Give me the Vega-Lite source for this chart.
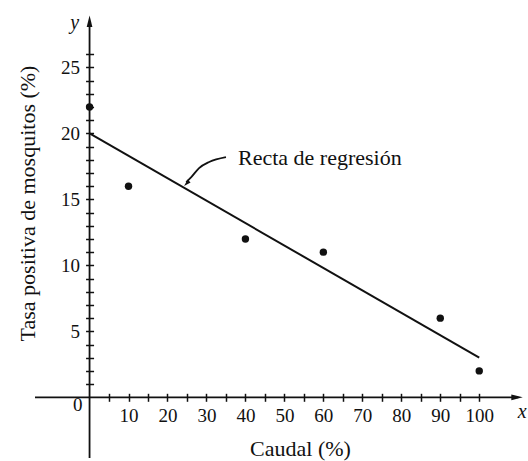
{
  "$schema": "https://vega.github.io/schema/vega-lite/v6.json",
  "width": 491,
  "height": 446,
  "autosize": {"type": "none"},
  "padding": {"left": 35, "top": 12, "right": 2, "bottom": 3},
  "background": "white",
  "config": {
    "view": {"stroke": null},
    "font": "Liberation Serif",
    "axis": {"grid": false}
  },
  "datasets": {
    "points": [
      {"x": 0, "y": 22},
      {"x": 10, "y": 16},
      {"x": 40, "y": 12},
      {"x": 60, "y": 11},
      {"x": 90, "y": 6},
      {"x": 100, "y": 2}
    ],
    "fit": [
      {"x": 0, "y": 20},
      {"x": 100, "y": 3}
    ],
    "xaxisline": [{"x": -14, "x2": 110, "y": 0}],
    "yaxisline": [{"x": 0, "y": -4.6, "y2": 28.4}],
    "xarrow": [{"x": 109.7, "y": 0}],
    "yarrow": [{"x": 0, "y": 28.5}],
    "curve": [
      {"x": 24.8, "y": 16.31},
      {"x": 26.1, "y": 16.69},
      {"x": 28.1, "y": 17.37},
      {"x": 30.7, "y": 17.83},
      {"x": 35.0, "y": 18.2}
    ],
    "curvehead": [{"x": 24.9, "y": 16.2}],
    "varnames": [
      {"x": -3.8, "y": 28.4, "text": "y"},
      {"x": 111, "y": -1.1, "text": "x"}
    ],
    "origin": [{"x": -3, "y": -0.6, "text": "0"}],
    "note": [{"x": 38.1, "y": 18.1, "text": "Recta de regresión"}]
  },
  "layer": [
    {
      "data": {"name": "points"},
      "mark": {"type": "point", "filled": true, "color": "#111", "size": 55, "opacity": 1},
      "encoding": {
        "x": {
          "field": "x", "type": "quantitative",
          "scale": {"domain": [-14, 112], "nice": false, "zero": false},
          "axis": {
            "orient": "bottom",
            "offset": -64.7,
            "domain": false,
            "values": [5,10,15,20,25,30,35,40,45,50,55,60,65,70,75,80,85,90,95,100],
            "tickCount": 100,
            "format": "d",
            "labelExpr": "datum.value % 10 == 0 ? datum.label : ''",
            "tickSize": 8,
            "tickWidth": 1.5,
            "tickColor": "#111",
            "labelFontSize": 19,
            "labelColor": "#111",
            "labelPadding": 5,
            "labelFlush": false,
            "labelOverlap": false,
            "title": "Caudal (%)",
            "titleFontSize": 22,
            "titleFontWeight": "normal",
            "titleColor": "#111",
            "titleX": 265,
            "titleY": 54.7,
            "titleAlign": "center",
            "titleBaseline": "middle"
          }
        },
        "y": {
          "field": "y", "type": "quantitative",
          "scale": {"domain": [-4.6, 29.2], "nice": false, "zero": false},
          "axis": {
            "orient": "left",
            "offset": -58.56,
            "domain": false,
            "values": [1,2,3,4,5,6,7,8,9,10,11,12,13,14,15,16,17,18,19,20,21,22,23,24,25,26],
            "tickCount": 100,
            "format": "d",
            "labelExpr": "datum.value % 5 == 0 ? datum.label : ''",
            "tickSize": 8,
            "tickWidth": 1.5,
            "tickColor": "#111",
            "labelFontSize": 19,
            "labelColor": "#111",
            "labelPadding": 6,
            "labelFlush": false,
            "labelOverlap": false,
            "title": "Tasa positiva de mosquitos (%)",
            "titleFontSize": 22,
            "titleFontWeight": "normal",
            "titleColor": "#111",
            "titleX": -65.6,
            "titleY": 191,
            "titleAngle": -90,
            "titleAlign": "center",
            "titleBaseline": "middle"
          }
        }
      }
    },
    {
      "data": {"name": "fit"},
      "mark": {"type": "line", "color": "#111", "strokeWidth": 2},
      "encoding": {
        "x": {"field": "x", "type": "quantitative"},
        "y": {"field": "y", "type": "quantitative"}
      }
    },
    {
      "data": {"name": "xaxisline"},
      "mark": {"type": "rule", "color": "#111", "strokeWidth": 1.8},
      "encoding": {
        "x": {"field": "x", "type": "quantitative"},
        "x2": {"field": "x2"},
        "y": {"field": "y", "type": "quantitative"}
      }
    },
    {
      "data": {"name": "yaxisline"},
      "mark": {"type": "rule", "color": "#111", "strokeWidth": 1.8},
      "encoding": {
        "x": {"field": "x", "type": "quantitative"},
        "y": {"field": "y", "type": "quantitative"},
        "y2": {"field": "y2"}
      }
    },
    {
      "data": {"name": "xarrow"},
      "mark": {"type": "point", "filled": true, "color": "#111", "opacity": 1, "shape": "M1,0L-1,0.5L-1,-0.5Z", "size": 130},
      "encoding": {
        "x": {"field": "x", "type": "quantitative"},
        "y": {"field": "y", "type": "quantitative"}
      }
    },
    {
      "data": {"name": "yarrow"},
      "mark": {"type": "point", "filled": true, "color": "#111", "opacity": 1, "shape": "M0,-1L0.5,1L-0.5,1Z", "size": 130},
      "encoding": {
        "x": {"field": "x", "type": "quantitative"},
        "y": {"field": "y", "type": "quantitative"}
      }
    },
    {
      "data": {"name": "curve"},
      "mark": {"type": "line", "color": "#111", "strokeWidth": 1.8, "interpolate": "monotone"},
      "encoding": {
        "x": {"field": "x", "type": "quantitative"},
        "y": {"field": "y", "type": "quantitative"}
      }
    },
    {
      "data": {"name": "curvehead"},
      "mark": {"type": "point", "filled": true, "color": "#111", "opacity": 1, "shape": "M0,-1L0.6,1L-0.6,1Z", "size": 50, "angle": 225},
      "encoding": {
        "x": {"field": "x", "type": "quantitative"},
        "y": {"field": "y", "type": "quantitative"}
      }
    },
    {
      "data": {"name": "varnames"},
      "mark": {"type": "text", "color": "#111", "fontSize": 20, "fontStyle": "italic", "align": "center", "baseline": "middle"},
      "encoding": {
        "x": {"field": "x", "type": "quantitative"},
        "y": {"field": "y", "type": "quantitative"},
        "text": {"field": "text"}
      }
    },
    {
      "data": {"name": "origin"},
      "mark": {"type": "text", "color": "#111", "fontSize": 19, "align": "center", "baseline": "middle"},
      "encoding": {
        "x": {"field": "x", "type": "quantitative"},
        "y": {"field": "y", "type": "quantitative"},
        "text": {"field": "text"}
      }
    },
    {
      "data": {"name": "note"},
      "mark": {"type": "text", "color": "#111", "fontSize": 22, "align": "left", "baseline": "middle"},
      "encoding": {
        "x": {"field": "x", "type": "quantitative"},
        "y": {"field": "y", "type": "quantitative"},
        "text": {"field": "text"}
      }
    }
  ]
}
